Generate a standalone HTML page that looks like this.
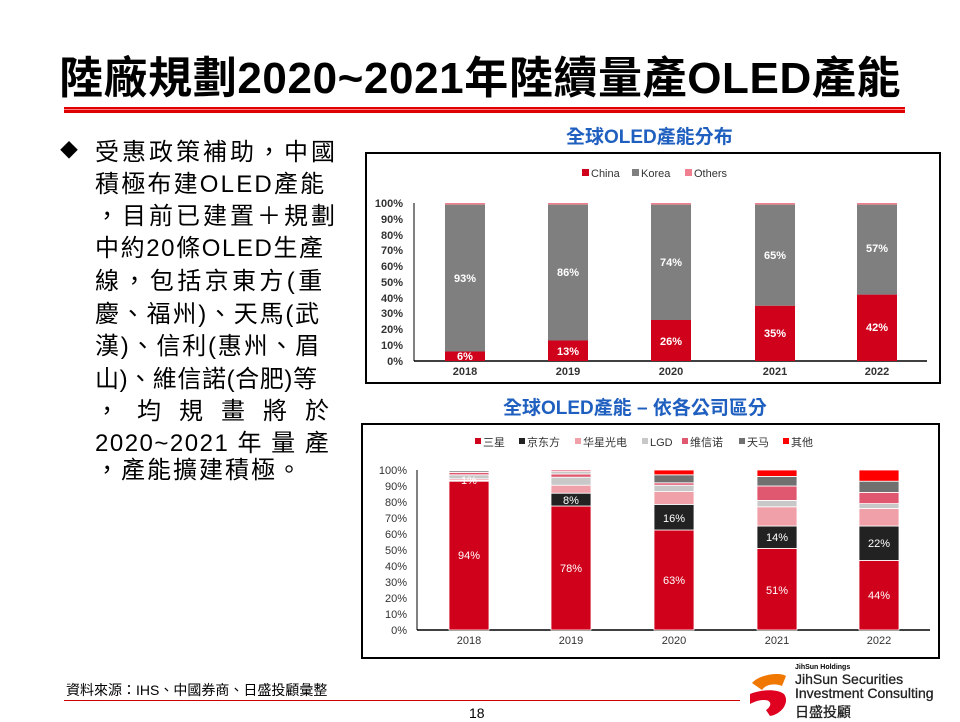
<!DOCTYPE html>
<html><head><meta charset="utf-8"><style>
body{margin:0;width:960px;height:720px;background:#fff;position:relative;overflow:hidden;font-family:"Liberation Sans","Noto Sans CJK TC",sans-serif}
.t{position:absolute;white-space:nowrap}
.l{position:absolute;left:95px;font-size:24px;color:#000;white-space:nowrap;letter-spacing:3px}
</style></head><body>
<div class="t" style="left:0;width:960px;text-align:center;top:42px;font-size:44px;font-weight:bold;color:#000;letter-spacing:0.6px">陸廠規劃2020~2021年陸續量產OLED產能</div>
<div style="position:absolute;left:64px;top:107px;width:841px;height:6px;background:#e00000"></div>
<div style="position:absolute;left:64px;top:109px;width:841px;height:1px;background:#ff8080"></div>
<div class="t" style="left:60px;top:137px;font-size:18px">◆</div>
<div class="l" style="top:132px">受惠政策補助，中國</div>
<div class="l" style="top:164px;letter-spacing:2.2px">積極布建OLED產能</div>
<div class="l" style="top:196px">，目前已建置＋規劃</div>
<div class="l" style="top:228px;letter-spacing:1.6px">中約20條OLED生產</div>
<div class="l" style="top:261px;letter-spacing:3.4px">線，包括京東方(重</div>
<div class="l" style="top:294px;letter-spacing:1.8px">慶、福州)、天馬(武</div>
<div class="l" style="top:326px;letter-spacing:1.8px">漢)、信利(惠州、眉</div>
<div class="l" style="top:359px;letter-spacing:0.6px">山)、維信諾(合肥)等</div>
<div class="l" style="top:391px;letter-spacing:18px">，均規畫將於</div>
<div class="l" style="top:423px;letter-spacing:1.5px">2020~2021 年 量 產</div>
<div class="l" style="top:450px;letter-spacing:2px">，產能擴建積極。</div>
<div class="t" style="left:566px;top:122px;font-size:19px;font-weight:bold;color:#1f5fbf">全球OLED產能分布</div>
<div class="t" style="left:503px;top:393px;font-size:19px;font-weight:bold;color:#1f5fbf">全球OLED產能 – 依各公司區分</div>
<div class="t" style="left:66px;top:680px;font-size:14px">資料來源：IHS、中國券商、日盛投顧彙整</div>
<div style="position:absolute;left:64px;top:700px;width:676px;height:1px;background:#c00"></div>
<div class="t" style="left:469px;top:705px;font-size:14px">18</div>
<svg style="position:absolute;left:0;top:0" width="960" height="720" font-family="Liberation Sans, Noto Sans CJK SC, sans-serif">
<rect x="366" y="153" width="574" height="230" fill="#fff" stroke="#000" stroke-width="2"/>
<g font-size="11" fill="#333">
<rect x="582" y="169" width="7" height="7" fill="#d0021b"/><text x="591" y="177">China</text>
<rect x="632" y="169" width="7" height="7" fill="#7f7f7f"/><text x="641" y="177">Korea</text>
<rect x="685" y="169" width="7" height="7" fill="#f08090"/><text x="694" y="177">Others</text>
</g>
<g font-size="11" fill="#333" font-weight="bold" text-anchor="end">
<text x="403" y="207">100%</text><text x="403" y="223">90%</text><text x="403" y="239">80%</text><text x="403" y="254">70%</text><text x="403" y="270">60%</text><text x="403" y="286">50%</text><text x="403" y="302">40%</text><text x="403" y="317">30%</text><text x="403" y="333">20%</text><text x="403" y="349">10%</text><text x="403" y="365">0%</text>
</g>
<line x1="414" y1="203" x2="414" y2="361" stroke="#000"/><line x1="414" y1="361" x2="927" y2="361" stroke="#000" stroke-width="1.5"/>
<g>
<rect x="445" y="351.5" width="40" height="9.5" fill="#d0021b"/><rect x="445" y="204.6" width="40" height="146.9" fill="#7f7f7f"/><rect x="445" y="203" width="40" height="1.6" fill="#f08090"/>
<rect x="548" y="340.5" width="40" height="20.5" fill="#d0021b"/><rect x="548" y="204.6" width="40" height="135.9" fill="#7f7f7f"/><rect x="548" y="203" width="40" height="1.6" fill="#f08090"/>
<rect x="651" y="320" width="40" height="41" fill="#d0021b"/><rect x="651" y="204.6" width="40" height="115.4" fill="#7f7f7f"/><rect x="651" y="203" width="40" height="1.6" fill="#f08090"/>
<rect x="755" y="305.7" width="40" height="55.3" fill="#d0021b"/><rect x="755" y="204.6" width="40" height="101.1" fill="#7f7f7f"/><rect x="755" y="203" width="40" height="1.6" fill="#f08090"/>
<rect x="857" y="294.6" width="40" height="66.4" fill="#d0021b"/><rect x="857" y="204.6" width="40" height="90" fill="#7f7f7f"/><rect x="857" y="203" width="40" height="1.6" fill="#f08090"/>
</g>
<g font-size="11" fill="#fff" font-weight="bold" text-anchor="middle">
<text x="465" y="282">93%</text><text x="465" y="360">6%</text>
<text x="568" y="276">86%</text><text x="568" y="355">13%</text>
<text x="671" y="266">74%</text><text x="671" y="345">26%</text>
<text x="775" y="259">65%</text><text x="775" y="337">35%</text>
<text x="877" y="252">57%</text><text x="877" y="331">42%</text>
</g>
<g font-size="11" fill="#333" font-weight="bold" text-anchor="middle">
<text x="465" y="375">2018</text><text x="568" y="375">2019</text><text x="671" y="375">2020</text><text x="775" y="375">2021</text><text x="877" y="375">2022</text>
</g>

<rect x="362" y="424" width="577" height="234" fill="#fff" stroke="#000" stroke-width="2"/>
<g font-size="11" fill="#333">
<rect x="475" y="438" width="6" height="6" fill="#d0021b"/><text x="483" y="446">三星</text>
<rect x="519" y="438" width="6" height="6" fill="#222"/><text x="527" y="446">京东方</text>
<rect x="575" y="438" width="6" height="6" fill="#f0a0a8"/><text x="583" y="446">华星光电</text>
<rect x="642" y="438" width="6" height="6" fill="#c8c8c8"/><text x="650" y="446">LGD</text>
<rect x="682" y="438" width="6" height="6" fill="#e05870"/><text x="690" y="446">维信诺</text>
<rect x="739" y="438" width="6" height="6" fill="#707070"/><text x="747" y="446">天马</text>
<rect x="783" y="438" width="6" height="6" fill="#ff0000"/><text x="791" y="446">其他</text>
</g>
<g font-size="11" fill="#333" text-anchor="end">
<text x="407" y="474">100%</text><text x="407" y="490">90%</text><text x="407" y="506">80%</text><text x="407" y="522">70%</text><text x="407" y="538">60%</text><text x="407" y="554">50%</text><text x="407" y="570">40%</text><text x="407" y="586">30%</text><text x="407" y="602">20%</text><text x="407" y="618">10%</text><text x="407" y="634">0%</text>
</g>
<line x1="417" y1="470" x2="417" y2="630" stroke="#000"/><line x1="417" y1="630" x2="930" y2="630" stroke="#000" stroke-width="1.5"/>
<g stroke="#fff" stroke-width="0.8">
<rect x="449" y="481.2" width="40" height="148.8" fill="#d0021b"/>
<rect x="449" y="480.4" width="40" height="0.8" fill="#222"/>
<rect x="449" y="478.8" width="40" height="1.6" fill="#f0a0a8"/>
<rect x="449" y="474.8" width="40" height="4" fill="#c8c8c8"/>
<rect x="449" y="472.4" width="40" height="2.4" fill="#e05870"/>
<rect x="449" y="470.8" width="40" height="1.6" fill="#707070"/>
<rect x="449" y="470" width="40" height="0.8" fill="#f08090"/>
<rect x="551" y="506" width="40" height="124" fill="#d0021b"/>
<rect x="551" y="493.2" width="40" height="12.8" fill="#222"/>
<rect x="551" y="485.2" width="40" height="8" fill="#f0a0a8"/>
<rect x="551" y="477.2" width="40" height="8" fill="#c8c8c8"/>
<rect x="551" y="474" width="40" height="3.2" fill="#e05870"/>
<rect x="551" y="471.6" width="40" height="2.4" fill="#c8c8c8"/>
<rect x="551" y="470" width="40" height="1.6" fill="#e05870"/>
<rect x="654" y="530" width="40" height="100" fill="#d0021b"/>
<rect x="654" y="504.4" width="40" height="25.6" fill="#222"/>
<rect x="654" y="491.6" width="40" height="12.8" fill="#f0a0a8"/>
<rect x="654" y="485.2" width="40" height="6.4" fill="#c8c8c8"/>
<rect x="654" y="482.8" width="40" height="2.4" fill="#e05870"/>
<rect x="654" y="474.8" width="40" height="8" fill="#707070"/>
<rect x="654" y="470" width="40" height="4.8" fill="#ff0000"/>
<rect x="757" y="548.4" width="40" height="81.6" fill="#d0021b"/>
<rect x="757" y="526" width="40" height="22.4" fill="#222"/>
<rect x="757" y="506.8" width="40" height="19.2" fill="#f0a0a8"/>
<rect x="757" y="500.4" width="40" height="6.4" fill="#c8c8c8"/>
<rect x="757" y="486" width="40" height="14.4" fill="#e05870"/>
<rect x="757" y="476.4" width="40" height="9.6" fill="#707070"/>
<rect x="757" y="470" width="40" height="6.4" fill="#ff0000"/>
<rect x="859" y="560.4" width="40" height="69.6" fill="#d0021b"/>
<rect x="859" y="526" width="40" height="34.4" fill="#222"/>
<rect x="859" y="508.4" width="40" height="17.6" fill="#f0a0a8"/>
<rect x="859" y="503.6" width="40" height="4.8" fill="#c8c8c8"/>
<rect x="859" y="492.4" width="40" height="11.2" fill="#e05870"/>
<rect x="859" y="481.2" width="40" height="11.2" fill="#707070"/>
<rect x="859" y="470" width="40" height="11.2" fill="#ff0000"/>
</g>
<g font-size="11" fill="#fff" text-anchor="middle">
<text x="469" y="484">1%</text><text x="469" y="559">94%</text>
<text x="571" y="504">8%</text><text x="571" y="572">78%</text>
<text x="674" y="522">16%</text><text x="674" y="584">63%</text>
<text x="777" y="541">14%</text><text x="777" y="594">51%</text>
<text x="879" y="547">22%</text><text x="879" y="599">44%</text>
</g>
<g font-size="11" fill="#333" text-anchor="middle">
<text x="469" y="644">2018</text><text x="571" y="644">2019</text><text x="674" y="644">2020</text><text x="777" y="644">2021</text><text x="879" y="644">2022</text>
</g>
<path d="M752 683 C760 674 780 672 786 676 L782 686 C775 683 766 684 762 690 Z" fill="#f07800"/>
<path d="M750 694 C760 690 776 688 784 694 C790 702 782 714 770 716 L766 710 C772 706 772 700 764 700 C758 700 754 702 750 704 Z" fill="#e00020"/>
</svg>
<div class="t" style="left:795px;top:664px;font-size:7px;font-weight:bold">JihSun Holdings</div>
<div class="t" style="left:795px;top:672px;font-size:14px;color:#222;line-height:14px;-webkit-text-stroke:0.3px #222">JihSun Securities<br>Investment Consulting</div>
<div class="t" style="left:795px;top:702px;font-size:14px;color:#222;-webkit-text-stroke:0.3px #222">日盛投顧</div>
</body></html>
